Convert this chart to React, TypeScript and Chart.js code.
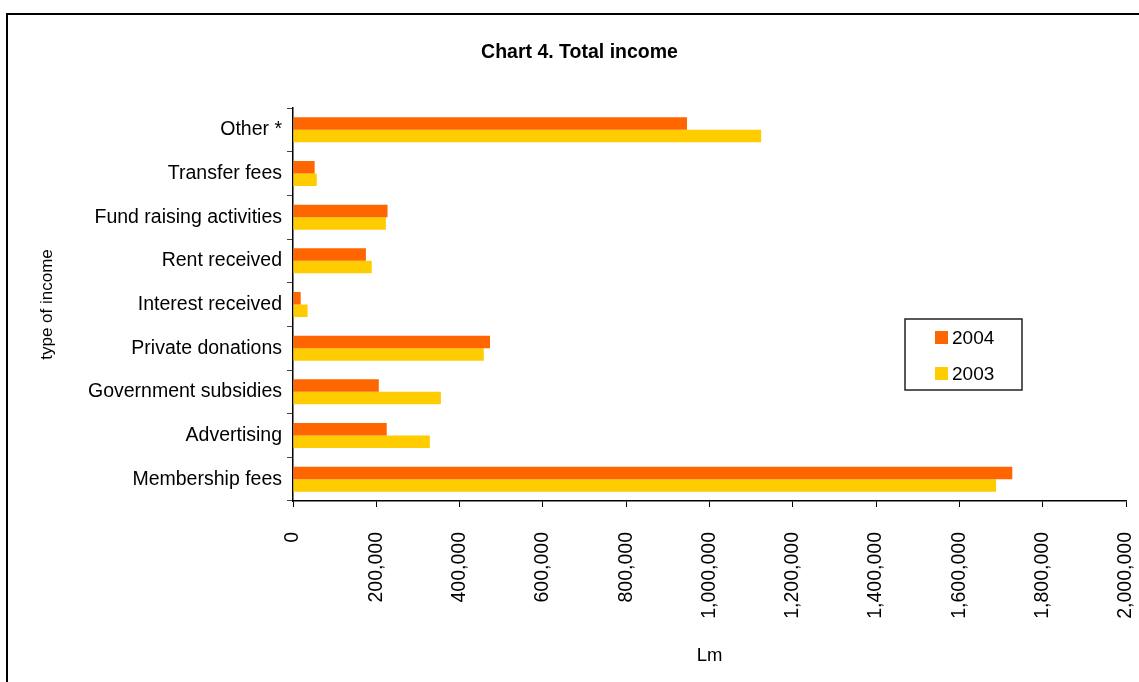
import React, { useEffect, useRef } from "react";
import { Chart, registerables } from "chart.js";

Chart.register(...registerables);

const categories = [
  "Other *",
  "Transfer fees",
  "Fund raising activities",
  "Rent received",
  "Interest received",
  "Private donations",
  "Government subsidies",
  "Advertising",
  "Membership fees",
];
const values2004 = [946000, 52000, 227000, 175000, 18500, 473000, 206000, 225000, 1727000];
const values2003 = [1124000, 57000, 223000, 189000, 35000, 458000, 355000, 328500, 1688000];
const seriesLabels = ["2004", "2003"];
const seriesColors = ["#FF6600", "#FFCC00"];
const xMin = 0;
const xMax = 2000000;
const xStep = 200000;
const chartTitle = "Chart 4. Total income";
const xAxisTitle = "Lm";
const yAxisTitle = "type of income";

const FONT = '"Liberation Sans", Arial, sans-serif';

function withCommas(v: number): string {
  const s = Math.round(v).toString();
  return s.replace(/\B(?=(\d{3})+(?!\d))/g, ",");
}

const framePlugin = {
  id: "frame",
  beforeDraw(chart: any) {
    const { ctx, width, height } = chart;
    ctx.save();
    ctx.fillStyle = "#fff";
    ctx.fillRect(0, 0, width, height);
    ctx.strokeStyle = "#000";
    ctx.lineWidth = 2;
    ctx.beginPath();
    ctx.moveTo(7, height + 2);
    ctx.lineTo(7, 14);
    ctx.lineTo(width + 2, 14);
    ctx.stroke();
    ctx.restore();
  },
};

const boxLegendPlugin = {
  id: "boxLegend",
  afterDraw(chart: any) {
    const { ctx, chartArea } = chart;
    const x = chartArea.left + 612;
    const y = chartArea.top + 211;
    const w = 117;
    const h = 71;
    ctx.save();
    ctx.strokeStyle = "#222";
    ctx.lineWidth = 1.5;
    ctx.strokeRect(x, y, w, h);
    ctx.font = `19px ${FONT}`;
    ctx.textBaseline = "alphabetic";
    ctx.textAlign = "left";
    chart.data.datasets.forEach((ds: any, i: number) => {
      const sy = y + 12 + i * 36;
      ctx.fillStyle = ds.backgroundColor;
      ctx.fillRect(x + 30, sy, 13, 13);
      ctx.fillStyle = "#000";
      ctx.fillText(ds.label, x + 47, sy + 13);
    });
    ctx.restore();
  },
};

export default function App() {
  const canvasRef = useRef<HTMLCanvasElement | null>(null);

  useEffect(() => {
    if (!canvasRef.current) return;
    const chart = new Chart(canvasRef.current, {
      type: "bar",
      data: {
        labels: categories,
        datasets: [
          {
            label: seriesLabels[0],
            data: values2004,
            backgroundColor: seriesColors[0],
            borderWidth: 0,
            categoryPercentage: 0.573,
            barPercentage: 1,
          },
          {
            label: seriesLabels[1],
            data: values2003,
            backgroundColor: seriesColors[1],
            borderWidth: 0,
            categoryPercentage: 0.573,
            barPercentage: 1,
          },
        ],
      },
      options: {
        indexAxis: "y",
        animation: false,
        responsive: false,
        devicePixelRatio: 1,
        layout: { padding: { left: 33, right: 13, top: 0, bottom: 0 } },
        plugins: {
          legend: { display: false },
          tooltip: { enabled: false },
          title: {
            display: true,
            text: chartTitle,
            color: "#000",
            font: { family: FONT, size: 19.5, weight: "bold" },
            padding: { top: 41.3, bottom: 43.3 },
          },
        },
        scales: {
          x: {
            type: "linear",
            min: xMin,
            max: xMax,
            ticks: {
              stepSize: xStep,
              minRotation: 90,
              maxRotation: 90,
              autoSkip: false,
              padding: 25,
              color: "#000",
              font: { family: FONT, size: 19.5 },
              callback: (v: any) => withCommas(Number(v)),
            },
            grid: {
              drawOnChartArea: false,
              drawTicks: true,
              tickLength: 6,
              color: "#000",
              lineWidth: 1,
            },
            border: { color: "#000", width: 1.5 },
            title: {
              display: true,
              text: xAxisTitle,
              color: "#000",
              font: { family: FONT, size: 18.5 },
              padding: { top: 0, bottom: 15.4 },
            },
            afterFit: (s: any) => {
              s.height = 181;
              s.paddingLeft = 0;
              s.paddingRight = 0;
            },
          },
          y: {
            type: "category",
            ticks: {
              color: "#000",
              autoSkip: false,
              padding: 5,
              font: { family: FONT, size: 19.5 },
            },
            grid: {
              drawOnChartArea: false,
              drawTicks: true,
              tickLength: 6,
              color: "#444",
              lineWidth: 1,
              offset: true,
            },
            border: { color: "#000", width: 1.5 },
            title: {
              display: true,
              text: yAxisTitle,
              color: "#000",
              font: { family: FONT, size: 17 },
              padding: { top: 4, bottom: 0 },
            },
            afterFit: (s: any) => {
              s.width = 260;
              s.paddingTop = 0;
              s.paddingBottom = 0;
            },
          },
        },
      } as any,
      plugins: [framePlugin, boxLegendPlugin],
    });
    return () => chart.destroy();
  }, []);

  return (
    <div style={{ position: "absolute", left: 0, top: 0, width: 1139, height: 682, overflow: "hidden" }}>
      <canvas ref={canvasRef} width={1139} height={682} style={{ display: "block" }} />
    </div>
  );
}
